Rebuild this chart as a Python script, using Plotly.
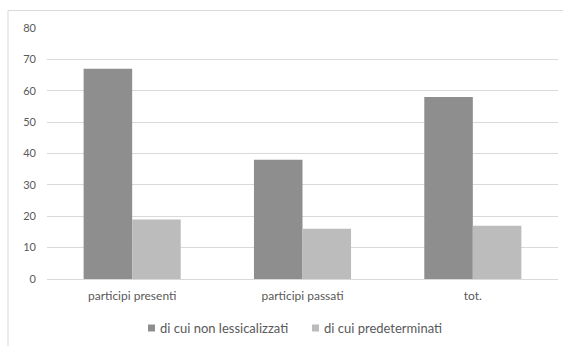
import plotly.graph_objects as go

categories = ["participi presenti", "participi passati", "tot."]
non_lessicalizzati = [67, 38, 58]
predeterminati = [19, 16, 17]
series_names = ["di cui non lessicalizzati", "di cui predeterminati"]
series_colors = ["#8e8e8e", "#bcbcbc"]
y_ticks = [0, 10, 20, 30, 40, 50, 60, 70, 80]

W, H = 563, 346
L, R, T, B = 47, 5, 28, 67
pw, ph = W - L - R, H - T - B

def px_x(px):
    return (px - L) / pw

def px_y(py):
    return (H - B - py) / ph

fig = go.Figure()
fig.add_trace(go.Bar(x=categories, y=non_lessicalizzati, name=series_names[0],
                     marker=dict(color=series_colors[0], line=dict(width=0))))
fig.add_trace(go.Bar(x=categories, y=predeterminati, name=series_names[1],
                     marker=dict(color=series_colors[1], line=dict(width=0))))

# outer chart frame
fig.add_shape(type="rect", xref="paper", yref="paper",
              x0=px_x(8), x1=px_x(575), y0=px_y(360), y1=px_y(10.5),
              line=dict(color="#d9d9d9", width=1), fillcolor="rgba(0,0,0,0)",
              layer="below")

# legend: small square swatch followed by the series name
legend_y = 328
swatch_x = [148, 312]
for sx, name, col in zip(swatch_x, series_names, series_colors):
    fig.add_shape(type="rect", xref="paper", yref="paper",
                  x0=px_x(sx), x1=px_x(sx + 7),
                  y0=px_y(legend_y + 3.5), y1=px_y(legend_y - 3.5),
                  line=dict(width=0), fillcolor=col)
    fig.add_annotation(xref="paper", yref="paper", x=px_x(sx + 10), y=px_y(legend_y),
                       xanchor="left", yanchor="middle", showarrow=False,
                       text=name, font=dict(size=13, color="#595959"))

fig.update_layout(
    width=W, height=H,
    margin=dict(l=L, r=R, t=T, b=B),
    paper_bgcolor="white", plot_bgcolor="white",
    barmode="group", bargap=0.43, bargroupgap=0,
    font=dict(family="Lato, Open Sans, sans-serif", size=12, color="#595959"),
    showlegend=False,
    xaxis=dict(showgrid=False, showline=False, ticks="", ticklabelstandoff=8,
               tickfont=dict(size=12, color="#595959")),
    yaxis=dict(range=[0, 80], tickvals=y_ticks, showgrid=True,
               gridcolor="#d9d9d9", gridwidth=1, zeroline=True,
               zerolinecolor="#d9d9d9", zerolinewidth=1, showline=False,
               ticks="", ticklabelstandoff=10,
               tickfont=dict(size=11, color="#595959")),
)

fig.write_html("out.html")
